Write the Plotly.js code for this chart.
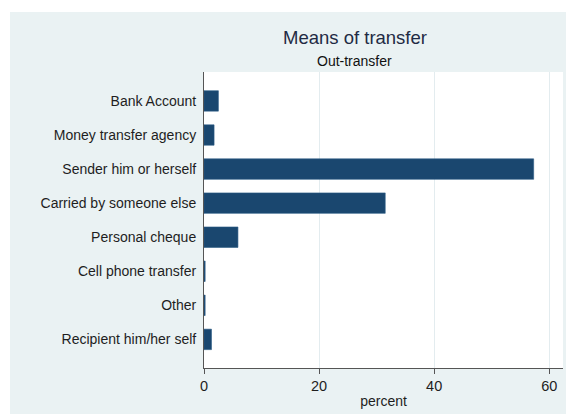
<!DOCTYPE html>
<html>
<head>
<meta charset="utf-8">
<script src="https://cdn.plot.ly/plotly-3.0.1.min.js"></script>
<style>html,body{margin:0;padding:0;background:#fff;}#chart{width:566px;height:414px;}</style>
</head>
<body>
<div id="chart"></div>
<script>
const categories = ["Bank Account","Money transfer agency","Sender him or herself","Carried by someone else","Personal cheque","Cell phone transfer","Other","Recipient him/her self"];
const percentValues = [2.5, 1.75, 57.3, 31.5, 5.9, 0.2, 0.2, 1.3];
const xTickValues = [0, 20, 40, 60];
const xTickLabels = ["0", "20", "40", "60"];

const bg = "#eaf2f3";
const W = 566, H = 414;
const L = 204, R = 563, T = 72, B = 368;
const pw = R - L, ph = B - T;
function px(x){ return (x - L) / pw; }
function py(y){ return (B - y) / ph; }

const trace = {
  type: "bar",
  orientation: "h",
  y: categories,
  x: percentValues,
  width: 0.6,
  marker: {color: "#1a476f", line: {color: "#2a5a84", width: 0.6}},
  hoverinfo: "skip"
};

const layout = {
  width: W, height: H,
  margin: {l: L, r: W - R, t: T, b: H - B, pad: 0},
  paper_bgcolor: bg,
  plot_bgcolor: "#ffffff",
  font: {family: "Liberation Sans, Arial, sans-serif", size: 14, color: "#1e1e1e"},
  showlegend: false,
  bargap: 0.4,
  xaxis: {
    range: [0, 62.4],
    tickmode: "array",
    tickvals: xTickValues,
    ticktext: xTickLabels,
    ticks: "outside", ticklen: 5, tickcolor: "#555555", tickwidth: 1,
    showgrid: true, gridcolor: "#e3ecef", gridwidth: 1,
    zeroline: false,
    showline: true, linecolor: "#555555", linewidth: 1,
    tickfont: {size: 14.5, color: "#1e1e1e"},
    title: {text: "percent", font: {size: 14, color: "#1e1e1e"}, standoff: 2},
    fixedrange: true
  },
  yaxis: {
    type: "category",
    autorange: false,
    range: [7.84, -0.85],
    showgrid: false,
    zeroline: false,
    showline: true, linecolor: "#555555", linewidth: 1,
    ticks: "", ticklabelstandoff: 4,
    tickfont: {size: 14, color: "#1e1e1e"},
    fixedrange: true
  },
  shapes: [
    {type: "rect", xref: "paper", yref: "paper", x0: px(0), x1: px(W), y0: py(0), y1: py(12), fillcolor: "#ffffff", line: {width: 0}, layer: "above"},
    {type: "rect", xref: "paper", yref: "paper", x0: px(0), x1: px(10), y0: py(0), y1: py(H), fillcolor: "#ffffff", line: {width: 0}, layer: "above"}
  ],
  annotations: [
    {text: "Means of transfer", xref: "paper", yref: "paper", x: px(354.5), y: py(46), xanchor: "center", yanchor: "bottom", showarrow: false, font: {size: 18.5, color: "#1f2b44"}, yshift: -4},
    {text: "Out-transfer", xref: "paper", yref: "paper", x: px(354.5), y: py(67.5), xanchor: "center", yanchor: "bottom", showarrow: false, font: {size: 14, color: "#111111"}, yshift: -3}
  ]
};

Plotly.newPlot("chart", [trace], layout, {displayModeBar: false, staticPlot: true});
</script>
</body>
</html>
